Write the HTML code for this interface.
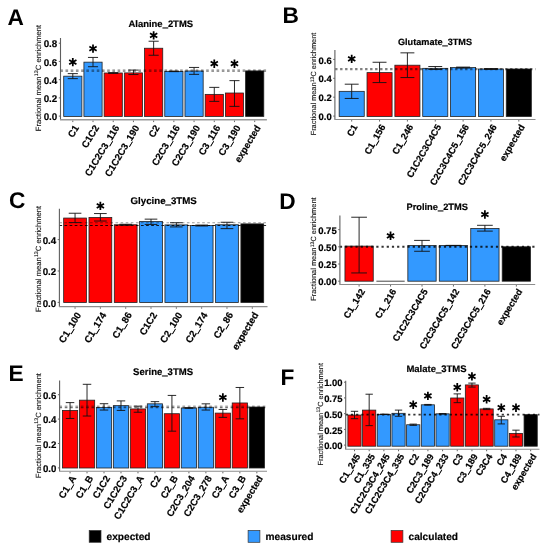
<!DOCTYPE html>
<html><head><meta charset="utf-8"><style>
html,body{margin:0;padding:0;background:#fff;}
svg{display:block;will-change:transform;filter:blur(0.3px);}
text{font-family:"Liberation Sans",sans-serif;fill:#000;text-rendering:geometricPrecision;}
.let{font-size:22.7px;font-weight:bold;}
.b{font-weight:bold;stroke:#000;stroke-width:0.18px;}

.us{stroke:#000;stroke-width:0.5px;}
.ylab{fill:#111;stroke:#111;stroke-width:0.1px;}
</style></head>
<body><svg width="550" height="550" viewBox="0 0 550 550">
<rect width="550" height="550" fill="#fff"/>
<text x="7.55" y="24.6" class="let">A</text>
<text x="160.8" y="26.8" class="b" font-size="9.45" text-anchor="middle">Alanine<tspan class="us">_</tspan>2TMS</text>
<text transform="translate(38.3 78) rotate(-90)" class="ylab" font-size="7.65" text-anchor="middle" dy="2.6">Fractional mean<tspan dx="0.23" dy="-2.75" font-size="5.35">13</tspan><tspan dx="0" dy="2.75">C enrichment</tspan></text>
<line x1="58.8" y1="116.1" x2="60.5" y2="116.1" stroke="#555" stroke-width="0.9"/>
<text transform="translate(57.3 120.37) scale(1.0 1.0)" class="b" font-size="9.8" text-anchor="end">0.0</text>
<line x1="58.8" y1="97.88" x2="60.5" y2="97.88" stroke="#555" stroke-width="0.9"/>
<text transform="translate(57.3 102.15) scale(1.0 1.0)" class="b" font-size="9.8" text-anchor="end">0.2</text>
<line x1="58.8" y1="79.66" x2="60.5" y2="79.66" stroke="#555" stroke-width="0.9"/>
<text transform="translate(57.3 83.93) scale(1.0 1.0)" class="b" font-size="9.8" text-anchor="end">0.4</text>
<line x1="58.8" y1="61.44" x2="60.5" y2="61.44" stroke="#555" stroke-width="0.9"/>
<text transform="translate(57.3 65.71) scale(1.0 1.0)" class="b" font-size="9.8" text-anchor="end">0.6</text>
<line x1="58.8" y1="43.22" x2="60.5" y2="43.22" stroke="#555" stroke-width="0.9"/>
<text transform="translate(57.3 47.49) scale(1.0 1.0)" class="b" font-size="9.8" text-anchor="end">0.8</text>
<rect x="63.71" y="76.18" width="18.19" height="40.22" fill="#3399ff" stroke="#222" stroke-width="0.8"/>
<rect x="83.92" y="62.16" width="18.19" height="54.24" fill="#3399ff" stroke="#222" stroke-width="0.8"/>
<rect x="104.13" y="72.99" width="18.19" height="43.41" fill="#ff0000" stroke="#222" stroke-width="0.8"/>
<rect x="124.34" y="72.9" width="18.19" height="43.5" fill="#ff0000" stroke="#222" stroke-width="0.8"/>
<rect x="144.55" y="48.24" width="18.19" height="68.16" fill="#ff0000" stroke="#222" stroke-width="0.8"/>
<rect x="164.76" y="71.36" width="18.19" height="45.05" fill="#3399ff" stroke="#222" stroke-width="0.8"/>
<rect x="184.97" y="70.99" width="18.19" height="45.41" fill="#3399ff" stroke="#222" stroke-width="0.8"/>
<rect x="205.18" y="94.38" width="18.19" height="22.02" fill="#ff0000" stroke="#222" stroke-width="0.8"/>
<rect x="225.39" y="93.01" width="18.19" height="23.39" fill="#ff0000" stroke="#222" stroke-width="0.8"/>
<rect x="245.6" y="70.9" width="18.19" height="45.5" fill="#000000" stroke="#222" stroke-width="0.8"/>
<line x1="60.3" y1="69.9" x2="266.9" y2="69.9" stroke="#000" stroke-opacity="0.33" stroke-width="1.4" stroke-dasharray="2.6 2.61"/>
<line x1="60.3" y1="71.2" x2="266.9" y2="71.2" stroke="#000" stroke-opacity="0.55" stroke-width="1.3" stroke-dasharray="2.6 2.61"/>
<path d="M72.8 78.64V73.63M67.75 78.64H77.85M67.75 73.63H77.85" stroke="#111" stroke-width="0.9" fill="none"/>
<path d="M72.8 66.3L72.8 57.9M69.16 64.2L76.44 60M69.16 60L76.44 64.2" stroke="#000" stroke-width="1.75" fill="none"/>
<path d="M93.01 66.71V57.43M87.96 66.71H98.06M87.96 57.43H98.06" stroke="#111" stroke-width="0.9" fill="none"/>
<path d="M93.01 52.8L93.01 44.4M89.37 50.7L96.65 46.5M89.37 46.5L96.65 50.7" stroke="#000" stroke-width="1.75" fill="none"/>
<path d="M113.22 73.36V72.63M108.17 73.36H118.27M108.17 72.63H118.27" stroke="#111" stroke-width="0.9" fill="none"/>
<path d="M133.43 74.54V70.08M128.38 74.54H138.48M128.38 70.08H138.48" stroke="#111" stroke-width="0.9" fill="none"/>
<path d="M153.64 55.25V41.23M148.59 55.25H158.69M148.59 41.23H158.69" stroke="#111" stroke-width="0.9" fill="none"/>
<path d="M153.64 39.6L153.64 31.2M150 37.5L157.28 33.3M150 33.3L157.28 37.5" stroke="#000" stroke-width="1.75" fill="none"/>
<path d="M173.85 71.63V71.08M168.8 71.63H178.9M168.8 71.08H178.9" stroke="#111" stroke-width="0.9" fill="none"/>
<path d="M194.06 74.36V67.44M189.01 74.36H199.11M189.01 67.44H199.11" stroke="#111" stroke-width="0.9" fill="none"/>
<path d="M214.27 101.39V87.37M209.22 101.39H219.32M209.22 87.37H219.32" stroke="#111" stroke-width="0.9" fill="none"/>
<path d="M214.27 67.9L214.27 59.5M210.63 65.8L217.91 61.6M210.63 61.6L217.91 65.8" stroke="#000" stroke-width="1.75" fill="none"/>
<path d="M234.48 106.39V80.64M229.43 106.39H239.53M229.43 80.64H239.53" stroke="#111" stroke-width="0.9" fill="none"/>
<path d="M234.48 67.9L234.48 59.5M230.84 65.8L238.12 61.6M230.84 61.6L238.12 65.8" stroke="#000" stroke-width="1.75" fill="none"/>
<line x1="60.5" y1="38" x2="60.5" y2="119.8" stroke="#5e5e5e" stroke-width="1.1"/>
<line x1="60" y1="119.8" x2="266.9" y2="119.8" stroke="#999" stroke-width="1.6"/>
<line x1="72.8" y1="120.6" x2="72.8" y2="122.1" stroke="#555" stroke-width="0.9"/>
<text transform="translate(79.23 127.66) rotate(-59)" class="b xl" font-size="9.6" text-anchor="end">C1</text>
<line x1="93.01" y1="120.6" x2="93.01" y2="122.1" stroke="#555" stroke-width="0.9"/>
<text transform="translate(99.44 127.66) rotate(-59)" class="b xl" font-size="9.6" text-anchor="end">C1C2</text>
<line x1="113.22" y1="120.6" x2="113.22" y2="122.1" stroke="#555" stroke-width="0.9"/>
<text transform="translate(119.65 127.66) rotate(-59)" class="b xl" font-size="9.6" text-anchor="end">C1C2C3<tspan class="us">_</tspan>116</text>
<line x1="133.43" y1="120.6" x2="133.43" y2="122.1" stroke="#555" stroke-width="0.9"/>
<text transform="translate(139.86 127.66) rotate(-59)" class="b xl" font-size="9.6" text-anchor="end">C1C2C3<tspan class="us">_</tspan>190</text>
<line x1="153.64" y1="120.6" x2="153.64" y2="122.1" stroke="#555" stroke-width="0.9"/>
<text transform="translate(160.07 127.66) rotate(-59)" class="b xl" font-size="9.6" text-anchor="end">C2</text>
<line x1="173.85" y1="120.6" x2="173.85" y2="122.1" stroke="#555" stroke-width="0.9"/>
<text transform="translate(180.28 127.66) rotate(-59)" class="b xl" font-size="9.6" text-anchor="end">C2C3<tspan class="us">_</tspan>116</text>
<line x1="194.06" y1="120.6" x2="194.06" y2="122.1" stroke="#555" stroke-width="0.9"/>
<text transform="translate(200.49 127.66) rotate(-59)" class="b xl" font-size="9.6" text-anchor="end">C2C3<tspan class="us">_</tspan>190</text>
<line x1="214.27" y1="120.6" x2="214.27" y2="122.1" stroke="#555" stroke-width="0.9"/>
<text transform="translate(220.7 127.66) rotate(-59)" class="b xl" font-size="9.6" text-anchor="end">C3<tspan class="us">_</tspan>116</text>
<line x1="234.48" y1="120.6" x2="234.48" y2="122.1" stroke="#555" stroke-width="0.9"/>
<text transform="translate(240.91 127.66) rotate(-59)" class="b xl" font-size="9.6" text-anchor="end">C3<tspan class="us">_</tspan>190</text>
<line x1="254.69" y1="120.6" x2="254.69" y2="122.1" stroke="#555" stroke-width="0.9"/>
<text transform="translate(261.12 127.66) rotate(-59)" class="b xl" font-size="9.6" text-anchor="end">expected</text>
<text x="282.4" y="22.9" class="let">B</text>
<text x="435" y="45" class="b" font-size="9.15" text-anchor="middle">Glutamate<tspan class="us">_</tspan>3TMS</text>
<text transform="translate(313.8 84) rotate(-90)" class="ylab" font-size="7.39" text-anchor="middle" dy="2.51">Fractional mean<tspan dx="0.22" dy="-2.66" font-size="5.17">13</tspan><tspan dx="0" dy="2.66">C enrichment</tspan></text>
<line x1="333.2" y1="116.1" x2="334.9" y2="116.1" stroke="#555" stroke-width="0.9"/>
<text transform="translate(331.7 120.25) scale(1.0 1.0)" class="b" font-size="9.47" text-anchor="end">0.0</text>
<line x1="333.2" y1="97.2" x2="334.9" y2="97.2" stroke="#555" stroke-width="0.9"/>
<text transform="translate(331.7 101.35) scale(1.0 1.0)" class="b" font-size="9.47" text-anchor="end">0.2</text>
<line x1="333.2" y1="78.3" x2="334.9" y2="78.3" stroke="#555" stroke-width="0.9"/>
<text transform="translate(331.7 82.45) scale(1.0 1.0)" class="b" font-size="9.47" text-anchor="end">0.4</text>
<line x1="333.2" y1="59.4" x2="334.9" y2="59.4" stroke="#555" stroke-width="0.9"/>
<text transform="translate(331.7 63.55) scale(1.0 1.0)" class="b" font-size="9.47" text-anchor="end">0.6</text>
<rect x="339.17" y="91.33" width="25.07" height="25.18" fill="#3399ff" stroke="#222" stroke-width="0.8"/>
<rect x="367.02" y="72.61" width="25.07" height="43.89" fill="#ff0000" stroke="#222" stroke-width="0.8"/>
<rect x="394.87" y="65.2" width="25.07" height="51.3" fill="#ff0000" stroke="#222" stroke-width="0.8"/>
<rect x="422.72" y="68.34" width="25.07" height="48.16" fill="#3399ff" stroke="#222" stroke-width="0.8"/>
<rect x="450.57" y="67.57" width="25.07" height="48.93" fill="#3399ff" stroke="#222" stroke-width="0.8"/>
<rect x="478.42" y="69" width="25.07" height="47.5" fill="#3399ff" stroke="#222" stroke-width="0.8"/>
<rect x="506.27" y="69" width="25.07" height="47.5" fill="#000000" stroke="#222" stroke-width="0.8"/>
<line x1="335.1" y1="69.1" x2="535.5" y2="69.1" stroke="#000" stroke-opacity="0.5" stroke-width="2.4" stroke-dasharray="2.4 2.6"/>
<path d="M351.7 98.45V84.2M344.74 98.45H358.66M344.74 84.2H358.66" stroke="#111" stroke-width="0.9" fill="none"/>
<path d="M351.7 63.1L351.7 54.7M348.06 61L355.34 56.8M348.06 56.8L355.34 61" stroke="#000" stroke-width="1.75" fill="none"/>
<path d="M379.55 82.59V62.26M372.59 82.59H386.51M372.59 62.26H386.51" stroke="#111" stroke-width="0.9" fill="none"/>
<path d="M407.4 77.55V52.85M400.44 77.55H414.36M400.44 52.85H414.36" stroke="#111" stroke-width="0.9" fill="none"/>
<path d="M435.25 69.47V66.53M428.29 69.47H442.21M428.29 66.53H442.21" stroke="#111" stroke-width="0.9" fill="none"/>
<path d="M463.1 68.05V67.1M456.14 68.05H470.06M456.14 67.1H470.06" stroke="#111" stroke-width="0.9" fill="none"/>
<path d="M490.95 69.47V68.53M483.99 69.47H497.91M483.99 68.53H497.91" stroke="#111" stroke-width="0.9" fill="none"/>
<line x1="334.9" y1="50" x2="334.9" y2="119.5" stroke="#5e5e5e" stroke-width="1.1"/>
<line x1="334.4" y1="119.5" x2="535.5" y2="119.5" stroke="#8c8c8c" stroke-width="1.1"/>
<line x1="351.7" y1="120.05" x2="351.7" y2="121.55" stroke="#555" stroke-width="0.9"/>
<text transform="translate(357.97 126.86) rotate(-60)" class="b xl" font-size="9.35" text-anchor="end">C1</text>
<line x1="379.55" y1="120.05" x2="379.55" y2="121.55" stroke="#555" stroke-width="0.9"/>
<text transform="translate(385.82 126.86) rotate(-60)" class="b xl" font-size="9.35" text-anchor="end">C1<tspan class="us">_</tspan>156</text>
<line x1="407.4" y1="120.05" x2="407.4" y2="121.55" stroke="#555" stroke-width="0.9"/>
<text transform="translate(413.67 126.86) rotate(-60)" class="b xl" font-size="9.35" text-anchor="end">C1<tspan class="us">_</tspan>246</text>
<line x1="435.25" y1="120.05" x2="435.25" y2="121.55" stroke="#555" stroke-width="0.9"/>
<text transform="translate(441.52 126.86) rotate(-60)" class="b xl" font-size="9.35" text-anchor="end">C1C2C3C4C5</text>
<line x1="463.1" y1="120.05" x2="463.1" y2="121.55" stroke="#555" stroke-width="0.9"/>
<text transform="translate(469.37 126.86) rotate(-60)" class="b xl" font-size="9.35" text-anchor="end">C2C3C4C5<tspan class="us">_</tspan>156</text>
<line x1="490.95" y1="120.05" x2="490.95" y2="121.55" stroke="#555" stroke-width="0.9"/>
<text transform="translate(497.22 126.86) rotate(-60)" class="b xl" font-size="9.35" text-anchor="end">C2C3C4C5<tspan class="us">_</tspan>246</text>
<line x1="518.8" y1="120.05" x2="518.8" y2="121.55" stroke="#555" stroke-width="0.9"/>
<text transform="translate(525.07 126.86) rotate(-60)" class="b xl" font-size="9.35" text-anchor="end">expected</text>
<text x="9.0" y="207.6" class="let">C</text>
<text x="163.7" y="204.2" class="b" font-size="9.7" text-anchor="middle">Glycine<tspan class="us">_</tspan>3TMS</text>
<text transform="translate(38.1 258.9) rotate(-90)" class="ylab" font-size="7.62" text-anchor="middle" dy="2.59">Fractional mean<tspan dx="0.23" dy="-2.74" font-size="5.33">13</tspan><tspan dx="0" dy="2.74">C enrichment</tspan></text>
<line x1="57.7" y1="302.4" x2="59.4" y2="302.4" stroke="#555" stroke-width="0.9"/>
<text transform="translate(56.2 306.66) scale(1.0 1.0)" class="b" font-size="9.76" text-anchor="end">0.0</text>
<line x1="57.7" y1="271" x2="59.4" y2="271" stroke="#555" stroke-width="0.9"/>
<text transform="translate(56.2 275.26) scale(1.0 1.0)" class="b" font-size="9.76" text-anchor="end">0.2</text>
<line x1="57.7" y1="239.6" x2="59.4" y2="239.6" stroke="#555" stroke-width="0.9"/>
<text transform="translate(56.2 243.86) scale(1.0 1.0)" class="b" font-size="9.76" text-anchor="end">0.4</text>
<rect x="63.66" y="218.06" width="22.79" height="84.44" fill="#ff0000" stroke="#222" stroke-width="0.8"/>
<rect x="88.98" y="217.44" width="22.79" height="85.06" fill="#ff0000" stroke="#222" stroke-width="0.8"/>
<rect x="114.3" y="224.75" width="22.79" height="77.75" fill="#ff0000" stroke="#222" stroke-width="0.8"/>
<rect x="139.62" y="221.48" width="22.79" height="81.02" fill="#3399ff" stroke="#222" stroke-width="0.8"/>
<rect x="164.94" y="224.91" width="22.79" height="77.59" fill="#3399ff" stroke="#222" stroke-width="0.8"/>
<rect x="190.26" y="225.53" width="22.79" height="76.97" fill="#3399ff" stroke="#222" stroke-width="0.8"/>
<rect x="215.58" y="224.75" width="22.79" height="77.75" fill="#3399ff" stroke="#222" stroke-width="0.8"/>
<rect x="240.9" y="223.89" width="22.79" height="78.61" fill="#000000" stroke="#222" stroke-width="0.8"/>
<line x1="59.4" y1="222.8" x2="267.5" y2="222.8" stroke="#000" stroke-opacity="0.4" stroke-width="1.1" stroke-dasharray="2.6 2.5"/>
<line x1="59.4" y1="225.5" x2="267.5" y2="225.5" stroke="#000" stroke-opacity="0.85" stroke-width="1.0" stroke-dasharray="2.7 2.4"/>
<path d="M75.05 222.57V213.24M68.72 222.57H81.38M68.72 213.24H81.38" stroke="#111" stroke-width="0.9" fill="none"/>
<path d="M100.37 221.02V213.55M94.04 221.02H106.7M94.04 213.55H106.7" stroke="#111" stroke-width="0.9" fill="none"/>
<path d="M100.37 210.1L100.37 201.7M96.73 208L104.01 203.8M96.73 203.8L104.01 208" stroke="#000" stroke-width="1.75" fill="none"/>
<path d="M125.69 225.22V224.28M119.36 225.22H132.02M119.36 224.28H132.02" stroke="#111" stroke-width="0.9" fill="none"/>
<path d="M151.01 224.44V219.15M144.68 224.44H157.34M144.68 219.15H157.34" stroke="#111" stroke-width="0.9" fill="none"/>
<path d="M176.33 226.93V222.73M170 226.93H182.66M170 222.73H182.66" stroke="#111" stroke-width="0.9" fill="none"/>
<path d="M201.65 225.99V225.06M195.32 225.99H207.98M195.32 225.06H207.98" stroke="#111" stroke-width="0.9" fill="none"/>
<path d="M226.97 228.64V222.26M220.64 228.64H233.3M220.64 222.26H233.3" stroke="#111" stroke-width="0.9" fill="none"/>
<line x1="59.4" y1="208.7" x2="59.4" y2="306.6" stroke="#5e5e5e" stroke-width="1.1"/>
<line x1="58.9" y1="306.6" x2="267.5" y2="306.6" stroke="#8c8c8c" stroke-width="1.3"/>
<line x1="75.05" y1="307.25" x2="75.05" y2="308.75" stroke="#555" stroke-width="0.9"/>
<text transform="translate(81.55 314.75) rotate(-59)" class="b xl" font-size="9.7" text-anchor="end">C1<tspan class="us">_</tspan>100</text>
<line x1="100.37" y1="307.25" x2="100.37" y2="308.75" stroke="#555" stroke-width="0.9"/>
<text transform="translate(106.87 314.75) rotate(-59)" class="b xl" font-size="9.7" text-anchor="end">C1<tspan class="us">_</tspan>174</text>
<line x1="125.69" y1="307.25" x2="125.69" y2="308.75" stroke="#555" stroke-width="0.9"/>
<text transform="translate(132.19 314.75) rotate(-59)" class="b xl" font-size="9.7" text-anchor="end">C1<tspan class="us">_</tspan>86</text>
<line x1="151.01" y1="307.25" x2="151.01" y2="308.75" stroke="#555" stroke-width="0.9"/>
<text transform="translate(157.51 314.75) rotate(-59)" class="b xl" font-size="9.7" text-anchor="end">C1C2</text>
<line x1="176.33" y1="307.25" x2="176.33" y2="308.75" stroke="#555" stroke-width="0.9"/>
<text transform="translate(182.83 314.75) rotate(-59)" class="b xl" font-size="9.7" text-anchor="end">C2<tspan class="us">_</tspan>100</text>
<line x1="201.65" y1="307.25" x2="201.65" y2="308.75" stroke="#555" stroke-width="0.9"/>
<text transform="translate(208.15 314.75) rotate(-59)" class="b xl" font-size="9.7" text-anchor="end">C2<tspan class="us">_</tspan>174</text>
<line x1="226.97" y1="307.25" x2="226.97" y2="308.75" stroke="#555" stroke-width="0.9"/>
<text transform="translate(233.47 314.75) rotate(-59)" class="b xl" font-size="9.7" text-anchor="end">C2<tspan class="us">_</tspan>86</text>
<line x1="252.29" y1="307.25" x2="252.29" y2="308.75" stroke="#555" stroke-width="0.9"/>
<text transform="translate(258.79 314.75) rotate(-59)" class="b xl" font-size="9.7" text-anchor="end">expected</text>
<text x="279.3" y="208.7" class="let">D</text>
<text x="437.2" y="209.5" class="b" font-size="9.3" text-anchor="middle">Proline<tspan class="us">_</tspan>2TMS</text>
<text transform="translate(313.8 249.1) rotate(-90)" class="ylab" font-size="7.43" text-anchor="middle" dy="2.53">Fractional mean<tspan dx="0.22" dy="-2.67" font-size="5.2">13</tspan><tspan dx="0" dy="2.67">C enrichment</tspan></text>
<line x1="338.2" y1="281.2" x2="339.9" y2="281.2" stroke="#555" stroke-width="0.9"/>
<text transform="translate(336.7 285.37) scale(1.0 1.0)" class="b" font-size="9.52" text-anchor="end">0.00</text>
<line x1="338.2" y1="264" x2="339.9" y2="264" stroke="#555" stroke-width="0.9"/>
<text transform="translate(336.7 268.17) scale(1.0 1.0)" class="b" font-size="9.52" text-anchor="end">0.25</text>
<line x1="338.2" y1="246.8" x2="339.9" y2="246.8" stroke="#555" stroke-width="0.9"/>
<text transform="translate(336.7 250.97) scale(1.0 1.0)" class="b" font-size="9.52" text-anchor="end">0.50</text>
<line x1="338.2" y1="229.6" x2="339.9" y2="229.6" stroke="#555" stroke-width="0.9"/>
<text transform="translate(336.7 233.77) scale(1.0 1.0)" class="b" font-size="9.52" text-anchor="end">0.75</text>
<rect x="344.95" y="246.11" width="28.3" height="35.09" fill="#ff0000" stroke="#222" stroke-width="0.8"/>
<line x1="376.4" y1="281.2" x2="404.7" y2="281.2" stroke="#444" stroke-width="1"/>
<rect x="407.85" y="245.49" width="28.3" height="35.71" fill="#3399ff" stroke="#222" stroke-width="0.8"/>
<rect x="439.3" y="245.49" width="28.3" height="35.71" fill="#3399ff" stroke="#222" stroke-width="0.8"/>
<rect x="470.75" y="228.5" width="28.3" height="52.7" fill="#3399ff" stroke="#222" stroke-width="0.8"/>
<rect x="502.2" y="246.8" width="28.3" height="34.4" fill="#000000" stroke="#222" stroke-width="0.8"/>
<line x1="339.9" y1="246.8" x2="535.2" y2="246.8" stroke="#000" stroke-opacity="0.8" stroke-width="1.9" stroke-dasharray="2.2 3"/>
<path d="M359.1 272.94V217.22M351.24 272.94H366.96M351.24 217.22H366.96" stroke="#111" stroke-width="0.9" fill="none"/>
<path d="M390.55 240L390.55 231.6M386.91 237.9L394.19 233.7M386.91 233.7L394.19 237.9" stroke="#000" stroke-width="1.75" fill="none"/>
<path d="M422 251.27V240.4M414.14 251.27H429.86M414.14 240.4H429.86" stroke="#111" stroke-width="0.9" fill="none"/>
<path d="M453.45 245.63V245.36M445.59 245.63H461.31M445.59 245.36H461.31" stroke="#111" stroke-width="0.9" fill="none"/>
<path d="M484.9 231.11V225.3M477.04 231.11H492.76M477.04 225.3H492.76" stroke="#111" stroke-width="0.9" fill="none"/>
<path d="M484.9 218.7L484.9 210.3M481.26 216.6L488.54 212.4M481.26 212.4L488.54 216.6" stroke="#000" stroke-width="1.75" fill="none"/>
<line x1="339.9" y1="215.5" x2="339.9" y2="284.5" stroke="#5e5e5e" stroke-width="1.1"/>
<line x1="339.4" y1="284.5" x2="535.2" y2="284.5" stroke="#8c8c8c" stroke-width="1.1"/>
<line x1="359.1" y1="285.05" x2="359.1" y2="286.55" stroke="#555" stroke-width="0.9"/>
<text transform="translate(365.33 291.42) rotate(-59)" class="b xl" font-size="9.3" text-anchor="end">C1<tspan class="us">_</tspan>142</text>
<line x1="390.55" y1="285.05" x2="390.55" y2="286.55" stroke="#555" stroke-width="0.9"/>
<text transform="translate(396.78 291.42) rotate(-59)" class="b xl" font-size="9.3" text-anchor="end">C1<tspan class="us">_</tspan>216</text>
<line x1="422" y1="285.05" x2="422" y2="286.55" stroke="#555" stroke-width="0.9"/>
<text transform="translate(428.23 291.42) rotate(-59)" class="b xl" font-size="9.3" text-anchor="end">C1C2C3C4C5</text>
<line x1="453.45" y1="285.05" x2="453.45" y2="286.55" stroke="#555" stroke-width="0.9"/>
<text transform="translate(459.68 291.42) rotate(-59)" class="b xl" font-size="9.3" text-anchor="end">C2C3C4C5<tspan class="us">_</tspan>142</text>
<line x1="484.9" y1="285.05" x2="484.9" y2="286.55" stroke="#555" stroke-width="0.9"/>
<text transform="translate(491.13 291.42) rotate(-59)" class="b xl" font-size="9.3" text-anchor="end">C2C3C4C5<tspan class="us">_</tspan>216</text>
<line x1="516.35" y1="285.05" x2="516.35" y2="286.55" stroke="#555" stroke-width="0.9"/>
<text transform="translate(522.58 291.42) rotate(-59)" class="b xl" font-size="9.3" text-anchor="end">expected</text>
<text x="8.6" y="381.2" class="let">E</text>
<text x="163.1" y="374.7" class="b" font-size="9.55" text-anchor="middle">Serine<tspan class="us">_</tspan>3TMS</text>
<text transform="translate(38.1 425.5) rotate(-90)" class="ylab" font-size="7.54" text-anchor="middle" dy="2.56">Fractional mean<tspan dx="0.23" dy="-2.72" font-size="5.28">13</tspan><tspan dx="0" dy="2.72">C enrichment</tspan></text>
<line x1="57.9" y1="467.9" x2="59.6" y2="467.9" stroke="#555" stroke-width="0.9"/>
<text transform="translate(56.4 472.12) scale(1.0 1.0)" class="b" font-size="9.66" text-anchor="end">0.0</text>
<line x1="57.9" y1="443.5" x2="59.6" y2="443.5" stroke="#555" stroke-width="0.9"/>
<text transform="translate(56.4 447.72) scale(1.0 1.0)" class="b" font-size="9.66" text-anchor="end">0.2</text>
<line x1="57.9" y1="419.1" x2="59.6" y2="419.1" stroke="#555" stroke-width="0.9"/>
<text transform="translate(56.4 423.32) scale(1.0 1.0)" class="b" font-size="9.66" text-anchor="end">0.4</text>
<line x1="57.9" y1="394.7" x2="59.6" y2="394.7" stroke="#555" stroke-width="0.9"/>
<text transform="translate(56.4 398.92) scale(1.0 1.0)" class="b" font-size="9.66" text-anchor="end">0.6</text>
<rect x="62.41" y="410.42" width="15.28" height="57.58" fill="#ff0000" stroke="#222" stroke-width="0.8"/>
<rect x="79.39" y="400.17" width="15.28" height="67.83" fill="#ff0000" stroke="#222" stroke-width="0.8"/>
<rect x="96.37" y="407.37" width="15.28" height="60.63" fill="#3399ff" stroke="#222" stroke-width="0.8"/>
<rect x="113.35" y="405.66" width="15.28" height="62.34" fill="#3399ff" stroke="#222" stroke-width="0.8"/>
<rect x="130.33" y="408.95" width="15.28" height="59.05" fill="#ff0000" stroke="#222" stroke-width="0.8"/>
<rect x="147.31" y="403.83" width="15.28" height="64.17" fill="#3399ff" stroke="#222" stroke-width="0.8"/>
<rect x="164.29" y="413.71" width="15.28" height="54.29" fill="#ff0000" stroke="#222" stroke-width="0.8"/>
<rect x="181.27" y="407.98" width="15.28" height="60.02" fill="#3399ff" stroke="#222" stroke-width="0.8"/>
<rect x="198.25" y="407.24" width="15.28" height="60.76" fill="#3399ff" stroke="#222" stroke-width="0.8"/>
<rect x="215.23" y="413.1" width="15.28" height="54.9" fill="#ff0000" stroke="#222" stroke-width="0.8"/>
<rect x="232.21" y="402.97" width="15.28" height="65.03" fill="#ff0000" stroke="#222" stroke-width="0.8"/>
<rect x="249.19" y="407" width="15.28" height="61" fill="#000000" stroke="#222" stroke-width="0.8"/>
<line x1="59.4" y1="406.1" x2="267.04" y2="406.1" stroke="#000" stroke-opacity="0.33" stroke-width="1.4" stroke-dasharray="2.65 2.7"/>
<line x1="59.4" y1="407.5" x2="267.04" y2="407.5" stroke="#000" stroke-opacity="0.55" stroke-width="1.3" stroke-dasharray="2.65 2.7"/>
<path d="M70.05 418.47V402.61M65.8 418.47H74.3M65.8 402.61H74.3" stroke="#111" stroke-width="0.9" fill="none"/>
<path d="M87.03 416.03V384.31M82.78 416.03H91.28M82.78 384.31H91.28" stroke="#111" stroke-width="0.9" fill="none"/>
<path d="M104.01 410.05V403.71M99.76 410.05H108.25M99.76 403.71H108.25" stroke="#111" stroke-width="0.9" fill="none"/>
<path d="M120.99 410.42V400.9M116.74 410.42H125.23M116.74 400.9H125.23" stroke="#111" stroke-width="0.9" fill="none"/>
<path d="M137.97 412.25V406.15M133.72 412.25H142.22M133.72 406.15H142.22" stroke="#111" stroke-width="0.9" fill="none"/>
<path d="M154.95 406.63V401.63M150.7 406.63H159.19M150.7 401.63H159.19" stroke="#111" stroke-width="0.9" fill="none"/>
<path d="M171.93 431.16V395.41M167.69 431.16H176.18M167.69 395.41H176.18" stroke="#111" stroke-width="0.9" fill="none"/>
<path d="M188.91 408.34V407.61M184.66 408.34H193.16M184.66 407.61H193.16" stroke="#111" stroke-width="0.9" fill="none"/>
<path d="M205.89 410.05V403.83M201.64 410.05H210.13M201.64 403.83H210.13" stroke="#111" stroke-width="0.9" fill="none"/>
<path d="M222.87 417.37V409.44M218.62 417.37H227.12M218.62 409.44H227.12" stroke="#111" stroke-width="0.9" fill="none"/>
<path d="M222.87 401.7L222.87 393.3M219.23 399.6L226.51 395.4M219.23 395.4L226.51 399.6" stroke="#000" stroke-width="1.75" fill="none"/>
<path d="M239.85 418.83V387.48M235.61 418.83H244.1M235.61 387.48H244.1" stroke="#111" stroke-width="0.9" fill="none"/>
<line x1="59.6" y1="380.6" x2="59.6" y2="471.3" stroke="#5e5e5e" stroke-width="1.1"/>
<line x1="59.1" y1="471.3" x2="267.04" y2="471.3" stroke="#8c8c8c" stroke-width="1.1"/>
<line x1="70.05" y1="471.85" x2="70.05" y2="473.35" stroke="#555" stroke-width="0.9"/>
<text transform="translate(76.48 478.16) rotate(-59)" class="b xl" font-size="9.6" text-anchor="end">C1<tspan class="us">_</tspan>A</text>
<line x1="87.03" y1="471.85" x2="87.03" y2="473.35" stroke="#555" stroke-width="0.9"/>
<text transform="translate(93.46 478.16) rotate(-59)" class="b xl" font-size="9.6" text-anchor="end">C1<tspan class="us">_</tspan>B</text>
<line x1="104.01" y1="471.85" x2="104.01" y2="473.35" stroke="#555" stroke-width="0.9"/>
<text transform="translate(110.44 478.16) rotate(-59)" class="b xl" font-size="9.6" text-anchor="end">C1C2</text>
<line x1="120.99" y1="471.85" x2="120.99" y2="473.35" stroke="#555" stroke-width="0.9"/>
<text transform="translate(127.42 478.16) rotate(-59)" class="b xl" font-size="9.6" text-anchor="end">C1C2C3</text>
<line x1="137.97" y1="471.85" x2="137.97" y2="473.35" stroke="#555" stroke-width="0.9"/>
<text transform="translate(144.4 478.16) rotate(-59)" class="b xl" font-size="9.6" text-anchor="end">C1C2C3<tspan class="us">_</tspan>A</text>
<line x1="154.95" y1="471.85" x2="154.95" y2="473.35" stroke="#555" stroke-width="0.9"/>
<text transform="translate(161.38 478.16) rotate(-59)" class="b xl" font-size="9.6" text-anchor="end">C2</text>
<line x1="171.93" y1="471.85" x2="171.93" y2="473.35" stroke="#555" stroke-width="0.9"/>
<text transform="translate(178.36 478.16) rotate(-59)" class="b xl" font-size="9.6" text-anchor="end">C2<tspan class="us">_</tspan>B</text>
<line x1="188.91" y1="471.85" x2="188.91" y2="473.35" stroke="#555" stroke-width="0.9"/>
<text transform="translate(195.34 478.16) rotate(-59)" class="b xl" font-size="9.6" text-anchor="end">C2C3<tspan class="us">_</tspan>204</text>
<line x1="205.89" y1="471.85" x2="205.89" y2="473.35" stroke="#555" stroke-width="0.9"/>
<text transform="translate(212.32 478.16) rotate(-59)" class="b xl" font-size="9.6" text-anchor="end">C2C3<tspan class="us">_</tspan>278</text>
<line x1="222.87" y1="471.85" x2="222.87" y2="473.35" stroke="#555" stroke-width="0.9"/>
<text transform="translate(229.3 478.16) rotate(-59)" class="b xl" font-size="9.6" text-anchor="end">C3<tspan class="us">_</tspan>A</text>
<line x1="239.85" y1="471.85" x2="239.85" y2="473.35" stroke="#555" stroke-width="0.9"/>
<text transform="translate(246.28 478.16) rotate(-59)" class="b xl" font-size="9.6" text-anchor="end">C3<tspan class="us">_</tspan>B</text>
<line x1="256.83" y1="471.85" x2="256.83" y2="473.35" stroke="#555" stroke-width="0.9"/>
<text transform="translate(263.26 478.16) rotate(-59)" class="b xl" font-size="9.6" text-anchor="end">expected</text>
<text x="280.6" y="384.7" class="let">F</text>
<text x="436.5" y="371.5" class="b" font-size="9.5" text-anchor="middle">Malate<tspan class="us">_</tspan>3TMS</text>
<text transform="translate(320.4 414.3) rotate(-90)" class="ylab" font-size="7.37" text-anchor="middle" dy="2.51">Fractional mean<tspan dx="0.22" dy="-2.65" font-size="5.16">13</tspan><tspan dx="0" dy="2.65">C enrichment</tspan></text>
<line x1="344" y1="445.1" x2="345.7" y2="445.1" stroke="#555" stroke-width="0.9"/>
<text transform="translate(342.5 449.24) scale(1.0 1.0)" class="b" font-size="9.45" text-anchor="end">0.00</text>
<line x1="344" y1="429.38" x2="345.7" y2="429.38" stroke="#555" stroke-width="0.9"/>
<text transform="translate(342.5 433.52) scale(1.0 1.0)" class="b" font-size="9.45" text-anchor="end">0.25</text>
<line x1="344" y1="413.65" x2="345.7" y2="413.65" stroke="#555" stroke-width="0.9"/>
<text transform="translate(342.5 417.79) scale(1.0 1.0)" class="b" font-size="9.45" text-anchor="end">0.50</text>
<line x1="344" y1="397.93" x2="345.7" y2="397.93" stroke="#555" stroke-width="0.9"/>
<text transform="translate(342.5 402.07) scale(1.0 1.0)" class="b" font-size="9.45" text-anchor="end">0.75</text>
<line x1="344" y1="382.2" x2="345.7" y2="382.2" stroke="#555" stroke-width="0.9"/>
<text transform="translate(342.5 386.34) scale(1.0 1.0)" class="b" font-size="9.45" text-anchor="end">1.00</text>
<rect x="347.89" y="415.03" width="13.21" height="31.17" fill="#ff0000" stroke="#222" stroke-width="0.8"/>
<rect x="362.57" y="410.11" width="13.21" height="36.09" fill="#ff0000" stroke="#222" stroke-width="0.8"/>
<rect x="377.25" y="414.33" width="13.21" height="31.87" fill="#3399ff" stroke="#222" stroke-width="0.8"/>
<rect x="391.93" y="413.32" width="13.21" height="32.88" fill="#3399ff" stroke="#222" stroke-width="0.8"/>
<rect x="406.61" y="424.75" width="13.21" height="21.45" fill="#3399ff" stroke="#222" stroke-width="0.8"/>
<rect x="421.29" y="404.81" width="13.21" height="41.39" fill="#3399ff" stroke="#222" stroke-width="0.8"/>
<rect x="435.97" y="413.83" width="13.21" height="32.37" fill="#3399ff" stroke="#222" stroke-width="0.8"/>
<rect x="450.65" y="397.99" width="13.21" height="48.21" fill="#ff0000" stroke="#222" stroke-width="0.8"/>
<rect x="465.33" y="384.93" width="13.21" height="61.27" fill="#ff0000" stroke="#222" stroke-width="0.8"/>
<rect x="480.01" y="408.91" width="13.21" height="37.29" fill="#ff0000" stroke="#222" stroke-width="0.8"/>
<rect x="494.69" y="419.82" width="13.21" height="26.38" fill="#3399ff" stroke="#222" stroke-width="0.8"/>
<rect x="509.37" y="433.39" width="13.21" height="12.81" fill="#ff0000" stroke="#222" stroke-width="0.8"/>
<rect x="524.05" y="414.65" width="13.21" height="31.55" fill="#000000" stroke="#222" stroke-width="0.8"/>
<line x1="345.7" y1="414.65" x2="539.46" y2="414.65" stroke="#000" stroke-opacity="0.8" stroke-width="1.9" stroke-dasharray="2.2 3"/>
<path d="M354.5 418.69V411.31M350.83 418.69H358.17M350.83 411.31H358.17" stroke="#111" stroke-width="0.9" fill="none"/>
<path d="M369.18 425.63V394.21M365.51 425.63H372.85M365.51 394.21H372.85" stroke="#111" stroke-width="0.9" fill="none"/>
<path d="M383.86 414.52V414.15M380.19 414.52H387.53M380.19 414.15H387.53" stroke="#111" stroke-width="0.9" fill="none"/>
<path d="M398.54 416.29V410.11M394.87 416.29H402.21M394.87 410.11H402.21" stroke="#111" stroke-width="0.9" fill="none"/>
<path d="M413.22 425.38V424.12M409.55 425.38H416.89M409.55 424.12H416.89" stroke="#111" stroke-width="0.9" fill="none"/>
<path d="M413.22 408.9L413.22 400.5M409.58 406.8L416.86 402.6M409.58 402.6L416.86 406.8" stroke="#000" stroke-width="1.75" fill="none"/>
<path d="M427.9 405.19V404.43M424.23 405.19H431.57M424.23 404.43H431.57" stroke="#111" stroke-width="0.9" fill="none"/>
<path d="M427.9 400.1L427.9 391.7M424.26 398L431.54 393.8M424.26 393.8L431.54 398" stroke="#000" stroke-width="1.75" fill="none"/>
<path d="M442.58 414.02V413.64M438.91 414.02H446.25M438.91 413.64H446.25" stroke="#111" stroke-width="0.9" fill="none"/>
<path d="M457.26 402.66V393.89M453.59 402.66H460.93M453.59 393.89H460.93" stroke="#111" stroke-width="0.9" fill="none"/>
<path d="M457.26 391.5L457.26 383.1M453.62 389.4L460.9 385.2M453.62 385.2L460.9 389.4" stroke="#000" stroke-width="1.75" fill="none"/>
<path d="M471.94 387.08V383.1M468.27 387.08H475.61M468.27 383.1H475.61" stroke="#111" stroke-width="0.9" fill="none"/>
<path d="M471.94 380.6L471.94 372.2M468.3 378.5L475.58 374.3M468.3 374.3L475.58 378.5" stroke="#000" stroke-width="1.75" fill="none"/>
<path d="M486.62 409.6V408.34M482.95 409.6H490.29M482.95 408.34H490.29" stroke="#111" stroke-width="0.9" fill="none"/>
<path d="M486.62 403.5L486.62 395.1M482.98 401.4L490.26 397.2M482.98 397.2L490.26 401.4" stroke="#000" stroke-width="1.75" fill="none"/>
<path d="M501.3 423.93V416.29M497.63 423.93H504.97M497.63 416.29H504.97" stroke="#111" stroke-width="0.9" fill="none"/>
<path d="M501.3 411.9L501.3 403.5M497.66 409.8L504.94 405.6M497.66 405.6L504.94 409.8" stroke="#000" stroke-width="1.75" fill="none"/>
<path d="M515.98 436.99V430.17M512.31 436.99H519.65M512.31 430.17H519.65" stroke="#111" stroke-width="0.9" fill="none"/>
<path d="M515.98 411.9L515.98 403.5M512.34 409.8L519.62 405.6M512.34 405.6L519.62 409.8" stroke="#000" stroke-width="1.75" fill="none"/>
<line x1="345.7" y1="380.8" x2="345.7" y2="449.2" stroke="#5e5e5e" stroke-width="1.1"/>
<line x1="345.2" y1="449.2" x2="539.46" y2="449.2" stroke="#8c8c8c" stroke-width="1.1"/>
<line x1="354.5" y1="449.75" x2="354.5" y2="451.25" stroke="#555" stroke-width="0.9"/>
<text transform="translate(360.73 456.22) rotate(-59)" class="b xl" font-size="9.3" text-anchor="end">C1<tspan class="us">_</tspan>245</text>
<line x1="369.18" y1="449.75" x2="369.18" y2="451.25" stroke="#555" stroke-width="0.9"/>
<text transform="translate(375.41 456.22) rotate(-59)" class="b xl" font-size="9.3" text-anchor="end">C1<tspan class="us">_</tspan>335</text>
<line x1="383.86" y1="449.75" x2="383.86" y2="451.25" stroke="#555" stroke-width="0.9"/>
<text transform="translate(390.09 456.22) rotate(-59)" class="b xl" font-size="9.3" text-anchor="end">C1C2C3C4<tspan class="us">_</tspan>245</text>
<line x1="398.54" y1="449.75" x2="398.54" y2="451.25" stroke="#555" stroke-width="0.9"/>
<text transform="translate(404.77 456.22) rotate(-59)" class="b xl" font-size="9.3" text-anchor="end">C1C2C3C4<tspan class="us">_</tspan>335</text>
<line x1="413.22" y1="449.75" x2="413.22" y2="451.25" stroke="#555" stroke-width="0.9"/>
<text transform="translate(419.45 456.22) rotate(-59)" class="b xl" font-size="9.3" text-anchor="end">C2</text>
<line x1="427.9" y1="449.75" x2="427.9" y2="451.25" stroke="#555" stroke-width="0.9"/>
<text transform="translate(434.13 456.22) rotate(-59)" class="b xl" font-size="9.3" text-anchor="end">C2C3<tspan class="us">_</tspan>189</text>
<line x1="442.58" y1="449.75" x2="442.58" y2="451.25" stroke="#555" stroke-width="0.9"/>
<text transform="translate(448.81 456.22) rotate(-59)" class="b xl" font-size="9.3" text-anchor="end">C2C3C4<tspan class="us">_</tspan>233</text>
<line x1="457.26" y1="449.75" x2="457.26" y2="451.25" stroke="#555" stroke-width="0.9"/>
<text transform="translate(463.49 456.22) rotate(-59)" class="b xl" font-size="9.3" text-anchor="end">C3</text>
<line x1="471.94" y1="449.75" x2="471.94" y2="451.25" stroke="#555" stroke-width="0.9"/>
<text transform="translate(478.17 456.22) rotate(-59)" class="b xl" font-size="9.3" text-anchor="end">C3<tspan class="us">_</tspan>189</text>
<line x1="486.62" y1="449.75" x2="486.62" y2="451.25" stroke="#555" stroke-width="0.9"/>
<text transform="translate(492.85 456.22) rotate(-59)" class="b xl" font-size="9.3" text-anchor="end">C3C4</text>
<line x1="501.3" y1="449.75" x2="501.3" y2="451.25" stroke="#555" stroke-width="0.9"/>
<text transform="translate(507.53 456.22) rotate(-59)" class="b xl" font-size="9.3" text-anchor="end">C4</text>
<line x1="515.98" y1="449.75" x2="515.98" y2="451.25" stroke="#555" stroke-width="0.9"/>
<text transform="translate(522.21 456.22) rotate(-59)" class="b xl" font-size="9.3" text-anchor="end">C4<tspan class="us">_</tspan>189</text>
<line x1="530.66" y1="449.75" x2="530.66" y2="451.25" stroke="#555" stroke-width="0.9"/>
<text transform="translate(536.89 456.22) rotate(-59)" class="b xl" font-size="9.3" text-anchor="end">expected</text>
<rect x="89.2" y="530.5" width="11.8" height="11.8" fill="#000000" stroke="#333" stroke-width="0.7"/>
<text x="106.6" y="540.3" class="b" font-size="10.15">expected</text>
<rect x="248.1" y="530.5" width="11.8" height="11.8" fill="#3399ff" stroke="#333" stroke-width="0.7"/>
<text x="265.6" y="540.3" class="b" font-size="10.15">measured</text>
<rect x="391.1" y="530.5" width="11.8" height="11.8" fill="#ff0000" stroke="#333" stroke-width="0.7"/>
<text x="408.5" y="540.3" class="b" font-size="10.15">calculated</text>
</svg></body></html>
